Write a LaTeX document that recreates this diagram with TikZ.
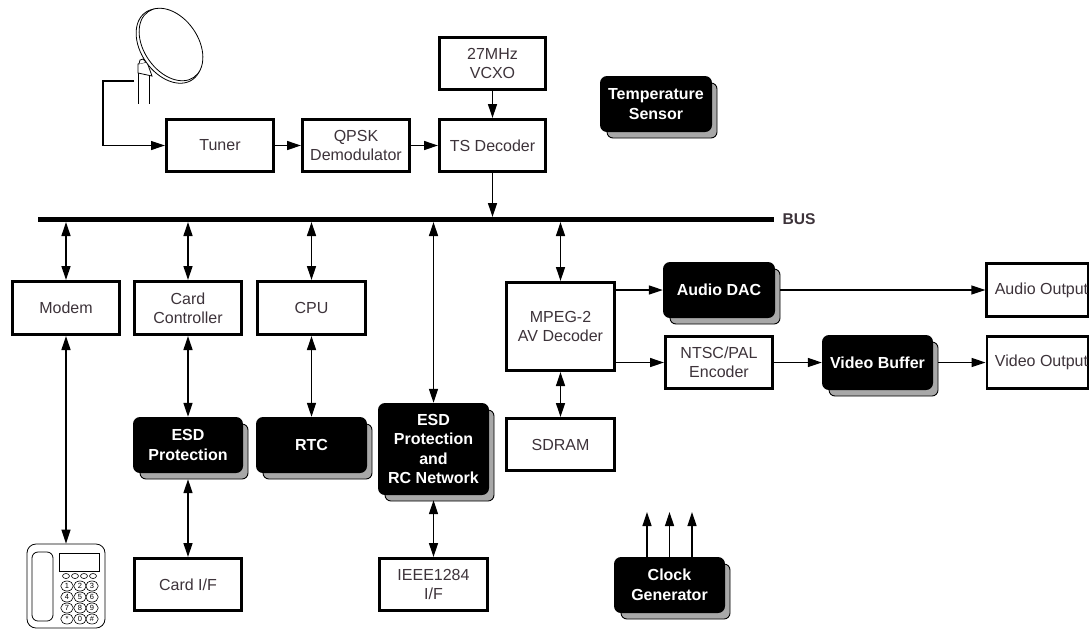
\documentclass[tikz,border=0pt]{standalone}
\usepackage{fontspec}
\setmainfont{Liberation Sans}
\usetikzlibrary{arrows.meta,shapes.geometric}
\definecolor{txt}{HTML}{3D333A}
\definecolor{shad}{HTML}{A8A8A8}
\tikzset{
  wbox/.style={draw=black,line width=2.8pt,fill=white,align=center,inner sep=0pt,text=txt,font=\fontsize{16}{19}\selectfont},
  bbox/.style={fill=black,rounded corners=7pt,align=center,inner sep=0pt,text=white,font=\bfseries\fontsize{16}{19.5}\selectfont},
  sbox/.style={fill=shad,draw=black,line width=0.9pt,rounded corners=6pt},
  conn/.style={line width=1.3pt,-{Triangle[length=14pt,width=9pt]}},
  bconn/.style={line width=1.3pt,{Triangle[length=14pt,width=9pt]}-{Triangle[length=14pt,width=9pt]}},
  pl/.style={line width=0.8pt},
  keycap/.style={draw=black,line width=0.6pt,ellipse,minimum width=12.5pt,minimum height=10pt,inner sep=0pt,font=\fontsize{7.5}{8}\selectfont},
  dotcap/.style={draw=black,line width=0.6pt,ellipse,minimum width=7pt,minimum height=5pt,inner sep=0pt},
}
\newcommand{\wb}[6]{\node[wbox,minimum width=#4-#3-2.8,minimum height=#6-#5-2.8] (#1) at ({(#3+#4)/2},{(#5+#6)/2}) {#2};}
\newcommand{\bb}[6]{%
  \path[sbox] (#3+7,#5+7) rectangle (#4+5,#6+6);
  \node[bbox,minimum width=#4-#3,minimum height=#6-#5] (#1) at ({(#3+#4)/2},{(#5+#6)/2}) {#2};}
\begin{document}
\begin{tikzpicture}[x=1pt,y=-1pt]
\useasboundingbox (0,0) rectangle (1089,630);
\wb{tuner}{Tuner}{165}{275}{118}{173}
\wb{qpsk}{QPSK\\Demodulator}{301}{411}{118}{173}
\wb{ts}{TS Decoder}{438}{547}{118}{173}
\wb{vcxo}{27MHz\\VCXO}{438}{547}{36}{91}
\bb{temp}{Temperature\\Sensor}{600}{712}{76}{132}
\node[inner sep=0pt,text=txt] (busl) at (799,219.5) {\bfseries\fontsize{15.6}{18}\selectfont BUS};
\coordinate (busL) at (38,219.5); \coordinate (busR) at (774,219.5);
\coordinate (busT) at (0,217); \coordinate (busB) at (0,222);
\draw[line width=5pt] (busL) -- (busR);
\wb{modem}{Modem}{11}{121}{280}{336}
\wb{card}{Card\\Controller}{133}{243}{280}{336}
\wb{cpu}{CPU}{256}{367}{280}{336}
\wb{mpeg}{MPEG-2\\AV Decoder}{505}{616}{281}{372}
\wb{sdram}{SDRAM}{505}{616}{417}{472}
\bb{esd}{ESD\\Protection}{133}{243}{417}{473}
\bb{rtc}{RTC}{256}{367}{417}{473}
\bb{esdb}{ESD\\Protection\\and\\RC Network}{378}{489}{403}{495}
\bb{adac}{Audio DAC}{663}{775}{262}{318}
\wb{ntsc}{NTSC/PAL\\Encoder}{664}{774}{335}{390}
\bb{vbuf}{Video Buffer}{822}{933}{335}{390}
\wb{aout}{\hspace*{8pt}Audio Output}{986}{1089}{262}{318}
\wb{vout}{\hspace*{8pt}Video Output}{986}{1089}{335}{390}
\wb{cif}{Card I/F}{133}{243}{557}{612}
\wb{ieee}{IEEE1284\\I/F}{378}{489}{557}{612}
\bb{clk}{Clock\\Generator}{614}{725}{557}{613}
% phone
\node[draw=black,line width=0.8pt,fill=white,rounded corners=9pt,minimum width=78pt,minimum height=84pt,inner sep=0pt] (phone) at (66,586) {};
\node[draw=black,line width=0.8pt,rounded corners=6pt,minimum width=21pt,minimum height=69pt,inner sep=0pt] (handset) at (42.5,586.5) {};
\node[draw=black,line width=0.8pt,minimum width=40pt,minimum height=18pt,inner sep=0pt] (screen) at (79,562) {};
\foreach \x/\n in {66/a,75/b,84/c,93/d} \node[dotcap] (dot\n) at (\x,576) {};
\foreach \x/\y/\n/\t in {67/586/a/1,80/586/b/2,92/586/c/3,67/597/d/4,80/597/e/5,92/597/f/6,67/608/g/7,80/608/h/8,92/608/i/9,67/619/j/*,80/619/k/0,92/619/l/\#}
  \node[keycap] (key\n) at (\x,\y) {\t};
% connectors
\draw[conn] (tuner.east) -- (qpsk.west);
\draw[conn] (qpsk.east) -- (ts.west);
\draw[conn] (vcxo.south) -- (ts.north);
\draw[conn] (ts.south) -- (ts.south |- busT);
\draw[bconn] (modem.north |- busB) -- (modem.north);
\draw[bconn] (card.north |- busB) -- (card.north);
\draw[bconn] (cpu.north |- busB) -- (cpu.north);
\draw[bconn] (esdb.north |- busB) -- (esdb.north);
\draw[bconn] (mpeg.north |- busB) -- (mpeg.north);
\draw[bconn] (modem.south) -- (phone.north);
\draw[bconn] (card.south) -- (esd.north);
\draw[bconn] (cpu.south) -- (rtc.north);
\draw[bconn] (esd.south)++(0,6) -- (cif.north);
\draw[bconn] (esdb.south)++(0,5) -- (ieee.north);
\draw[bconn] (mpeg.south) -- (sdram.north);
\draw[conn] (mpeg.east |- adac.west) -- (adac.west);
\draw[conn] (mpeg.east |- ntsc.west) -- (ntsc.west);
\draw[conn] (adac.east)++(5,0) -- (aout.west);
\draw[conn] (ntsc.east) -- (vbuf.west);
\draw[conn] (vbuf.east)++(5,0) -- (vout.west);
\coordinate (ca) at (647,512); \coordinate (cb) at (669.5,512); \coordinate (cc) at (692,512);
\draw[conn] (clk.north -| ca) -- (ca);
\draw[conn] (clk.north) -- (cb);
\draw[conn] (clk.north -| cc) -- (cc);
% dish
\coordinate (lnb) at (134,81);
\draw[line width=1.2pt,-{Triangle[length=14pt,width=9pt]}] (lnb) -- (103,81) |- (tuner.west);
\draw[pl] (138.5,70) -- (138.5,104) (149,73) -- (149,104);
\draw[pl,fill=white] (138,64) -- (147,62) -- (152,76) -- (138,73) -- cycle;
\draw[pl,fill=white] (139,64) -- (140,60) -- (143,59) -- (146,62);
\draw[pl,fill=white,rotate around={35:(169,46)}] (169,46) ellipse (28pt and 41pt);
\draw[pl,fill=white,rotate around={35:(171,44.5)}] (171,44.5) ellipse (27pt and 40pt);
\end{tikzpicture}
\end{document}
